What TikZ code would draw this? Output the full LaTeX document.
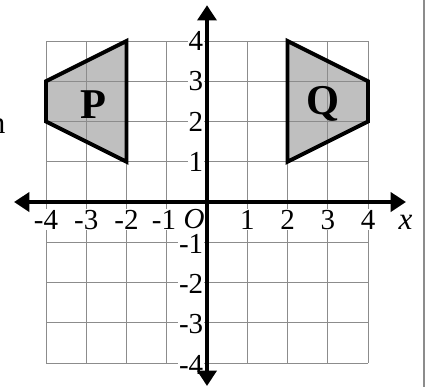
\documentclass[tikz,border=0pt]{standalone}
\usepackage{fontspec}
\setmainfont{Liberation Serif}
\usetikzlibrary{arrows.meta}
\begin{document}
\begin{tikzpicture}[x=1cm,y=1cm,
  gridline/.style={draw=black!45, line width=0.6pt},
  axisline/.style={line width=2.8pt, {Triangle[length=0.38cm,width=0.47cm]}-{Triangle[length=0.38cm,width=0.47cm]}},
  shapefill/.style={fill=black!25},
  shapeedge/.style={draw=black, line width=2.8pt, line join=miter},
  ticklab/.style={font=\fontsize{20.5}{24}\selectfont, fill=white, inner sep=0.5pt},
  biglab/.style={font=\fontsize{30}{34}\selectfont\bfseries},
  framerule/.style={draw=black!45, line width=0.8pt}]
\useasboundingbox (-5.143,-4.596) rectangle (5.416,5.019);
\fill[white] (-5.143,-4.596) rectangle (5.416,5.019);
% polygon fills
\fill[shapefill] (-4,3) -- (-2,4) -- (-2,1) -- (-4,2) -- cycle;
\fill[shapefill] (2,4) -- (4,3) -- (4,2) -- (2,1) -- cycle;
% grid
\draw[gridline] (-4,-4) grid (4,4);
% frame line at right
\coordinate (ftop) at (5.39,5.019);
\coordinate (fbot) at (5.39,-4.596);
\draw[framerule] (ftop) -- (fbot);
% polygon outlines
\draw[shapeedge] (-4,3) -- (-2,4) -- (-2,1) -- (-4,2) -- cycle;
\draw[shapeedge] (2,4) -- (4,3) -- (4,2) -- (2,1) -- cycle;
\node[biglab] (P) at (-2.81,2.43) {P};
\node[biglab] (Q) at (2.89,2.43) {Q};
% tick labels
\foreach \k in {-4,-3,-2} {\node[ticklab] (xl\k) at (\k,-0.44) {\k};}
\node[ticklab] (xlm1) at (-1.07,-0.44) {-1};
\foreach \k in {1,2,3,4} {\node[ticklab] (xl\k) at (\k,-0.44) {\k};}
\node[ticklab, font=\fontsize{20.5}{24}\selectfont\itshape, fill=none] (orig) at (-0.32,-0.42) {O};
\foreach \k in {1,2,3,4} {\node[ticklab, anchor=east] (yl\k) at (-0.07,\k) {\k};}
\foreach \k in {-1,-2,-3,-4} {\node[ticklab, anchor=east] (yl\k) at (-0.07,\k-0.04) {\k};}
\node[ticklab, font=\fontsize{22}{26}\selectfont\itshape, fill=none] (xname) at (4.93,-0.5) {x};
\node[anchor=base east, inner sep=0pt, font=\fontsize{22}{26}\selectfont] (cutn) at (-5.0,1.714) {n};
% axes
\coordinate (xa) at (-4.795,0);
\coordinate (xb) at (4.944,0);
\coordinate (ya) at (0,-4.57);
\coordinate (yb) at (0,4.89);
\draw[axisline] (xa) -- (xb);
\draw[axisline] (ya) -- (yb);
\end{tikzpicture}
\end{document}
